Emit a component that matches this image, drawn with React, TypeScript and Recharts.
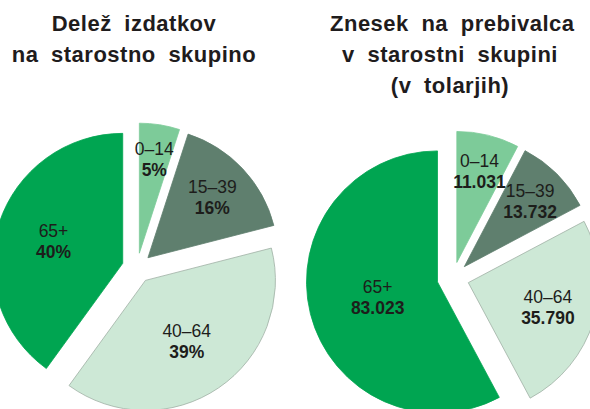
import React from "react";
import { PieChart, Pie, Cell, Sector } from "recharts";

const AGE_GROUPS = ["0–14", "15–39", "40–64", "65+"];
const SHARE_PCT = [5, 16, 39, 40];
const PER_CAPITA_SIT = [11031, 13732, 35790, 83023];

const FILLS = ["#7dcb99", "#5f7f6e", "#cde8d6", "#00a551"];
const STROKES = ["#7dcb99", "#5f7f6e", "#9fb0a5", "#00a551"];

const RAD = Math.PI / 180;
const FONT = '"Liberation Sans", Arial, Helvetica, sans-serif';

const shareData = AGE_GROUPS.map((name, i) => ({ name, value: SHARE_PCT[i] }));
const perCapitaData = AGE_GROUPS.map((name, i) => ({ name, value: PER_CAPITA_SIT[i] }));

// thousands with a dot, as in the original (11.031)
const fmtSit = (v: number) => String(v).replace(/\B(?=(\d{3})+(?!\d))/g, ".");
const fmtPct = (v: number) => `${v}%`;

function explode(offset: number) {
  return (props: any) => {
    const { cx, cy, midAngle } = props;
    const dx = offset * Math.cos(-midAngle * RAD);
    const dy = offset * Math.sin(-midAngle * RAD);
    return <Sector {...props} cx={cx + dx} cy={cy + dy} />;
  };
}

function sliceLabel(offset: number, fmt: (v: number) => string) {
  return (props: any) => {
    const { cx, cy, midAngle, outerRadius, percent, value, name } = props;
    const r = outerRadius * (0.76 - 0.5 * percent) + offset;
    const x = cx + r * Math.cos(-midAngle * RAD);
    const y = cy + r * Math.sin(-midAngle * RAD);
    return (
      <text
        x={x}
        y={y - 4}
        textAnchor="middle"
        fontFamily={FONT}
        fontSize={17.5}
        fill="#1d1d1b"
      >
        <tspan x={x}>{name}</tspan>
        <tspan x={x} dy={21} fontWeight="bold">
          {fmt(value)}
        </tspan>
      </text>
    );
  };
}

const titleStyle: React.CSSProperties = {
  position: "absolute",
  top: 8,
  fontFamily: FONT,
  fontWeight: "bold",
  fontSize: 22,
  lineHeight: "31px",
  wordSpacing: 6,
  letterSpacing: 0.5,
  color: "#1f1c1d",
  textAlign: "center",
  whiteSpace: "nowrap",
};

export default function App() {
  return (
    <div
      style={{
        position: "absolute",
        left: 0,
        top: 0,
        width: 590,
        height: 409,
        overflow: "hidden",
        background: "#ffffff",
      }}
    >
      <div style={{ ...titleStyle, left: 0, width: 268 }}>
        Delež izdatkov
        <br />
        na starostno skupino
      </div>
      <div style={{ ...titleStyle, left: 330, width: 240 }}>
        Znesek na prebivalca
        <br />
        v starostni skupini
        <br />
        (v tolarjih)
      </div>
      <PieChart width={590} height={409} margin={{ top: 0, right: 0, bottom: 0, left: 0 }}>
        <Pie
          data={shareData}
          dataKey="value"
          nameKey="name"
          cx={137}
          cy={268}
          outerRadius={130}
          startAngle={90}
          endAngle={-270}
          shape={explode(15)}
          label={sliceLabel(15, fmtPct)}
          labelLine={false}
          strokeWidth={0.8}
          isAnimationActive={false}
        >
          {shareData.map((d, i) => (
            <Cell key={d.name} fill={FILLS[i]} stroke={STROKES[i]} />
          ))}
        </Pie>
        <Pie
          data={perCapitaData}
          dataKey="value"
          nameKey="name"
          cx={453}
          cy={278}
          outerRadius={131}
          startAngle={90}
          endAngle={-270}
          shape={explode(16)}
          label={sliceLabel(16, fmtSit)}
          labelLine={false}
          strokeWidth={0.8}
          isAnimationActive={false}
        >
          {perCapitaData.map((d, i) => (
            <Cell key={d.name} fill={FILLS[i]} stroke={STROKES[i]} />
          ))}
        </Pie>
      </PieChart>
    </div>
  );
}
